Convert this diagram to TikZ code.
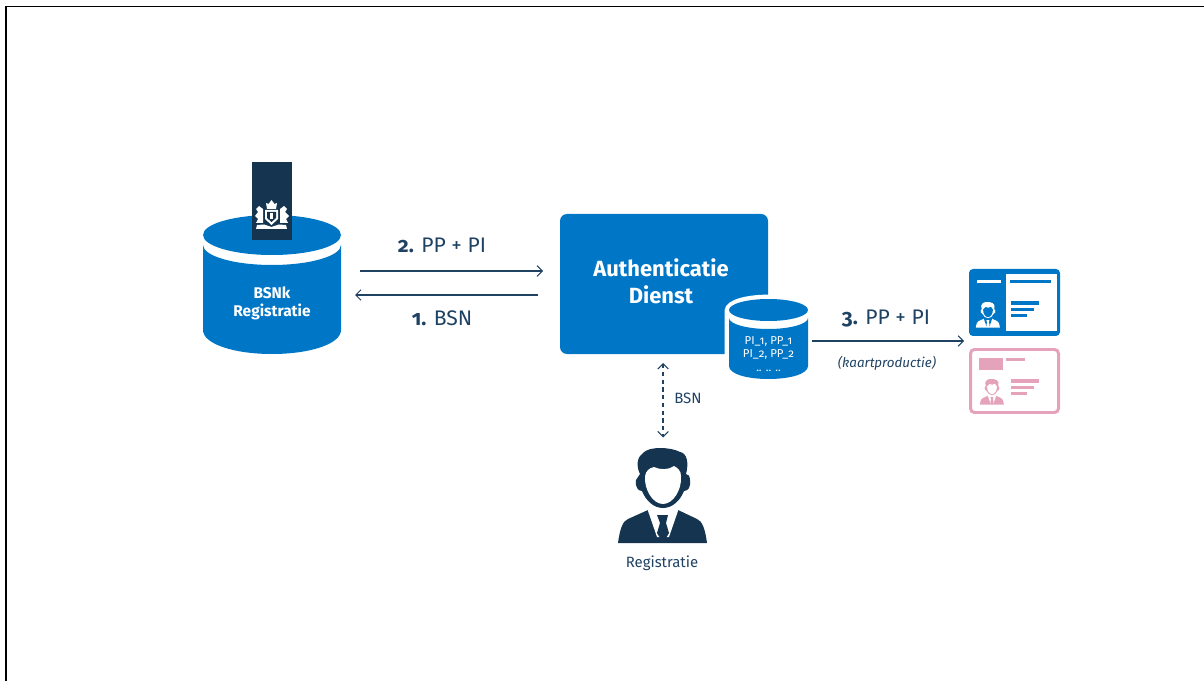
\documentclass[tikz,border=0pt]{standalone}
\usepackage{fontspec}
\setmainfont[Numbers=OldStyle]{Fira Sans}
\usetikzlibrary{arrows.meta}
\definecolor{rijkblue}{HTML}{0077C6}
\definecolor{rijknavy}{HTML}{14344F}
\definecolor{rijkink}{HTML}{1F4263}
\definecolor{rijkpink}{HTML}{E5A3BB}
\tikzset{
  flow/.style={draw=rijkink,line width=0.6pt,-{Straight Barb[length=3pt,width=6pt]}},
  swap/.style={flow,{Straight Barb[length=3pt,width=6pt]}-{Straight Barb[length=3pt,width=6pt]},dashed,dash pattern=on 2.4pt off 2pt},
  anchorbox/.style={inner sep=0pt,outer sep=0pt},
  lbl/.style={text=rijkink,font=\fontsize{12}{14}\selectfont,inner sep=0pt},
  small/.style={text=rijkink,font=\fontsize{8.5}{10}\selectfont,inner sep=0pt},
  inbox/.style={text=white,align=center,inner sep=0pt},
}
% head and shoulders: x, y, scale, figure colour, face colour
\newcommand{\bust}[5]{
\begin{scope}[shift={(#1,#2)},scale=#3]
\fill[#4] (-45,95) .. controls (-43,80) and (-40,73) .. (-35,71) -- (-15,62) -- (15,62) -- (34,71) .. controls (39,73) and (42,80) .. (44,95) -- cycle;
\fill[#5] (-16,60) -- (16,60) -- (6,89) -- (-6,89) -- cycle;
\fill[#4] (-6,67) -- (5,67) -- (3,75) -- (6,85) -- (0,95) -- (-6,85) -- (-3,75) -- cycle;
\fill[#4] (-27,32) .. controls (-28,39) and (-25,43) .. (-21,43) .. controls (-17,53) and (-9,60) .. (0,60) .. controls (9,60) and (17,53) .. (21,43) .. controls (25,43) and (28,39) .. (27,32) .. controls (27,28) and (25,26) .. (23,26) .. controls (26,15) and (24,5) .. (17,4) .. controls (8,-1) and (-14,-2) .. (-20,5) .. controls (-26,9) and (-27,18) .. (-23,26) -- cycle;
\fill[#5] (-18,28) .. controls (-17,23) and (-14,20) .. (-9,19) .. controls (-3,22) and (6,22) .. (11,18) .. controls (15,20) and (18,23) .. (18,28) .. controls (19,42) and (10,56) .. (0,56) .. controls (-10,56) and (-19,42) .. (-18,28) -- cycle;
\end{scope}
}
\begin{document}
\begin{tikzpicture}[x=0.2mm,y=-0.2mm]
\useasboundingbox (0,0) rectangle (1204,681);
\draw[black,line width=1pt] (6,681) -- (6,6.5) -- (1204,6.5);

% BSNk register
\fill[rijkblue] (203,245) .. controls (203,256) and (234,265) .. (272,265) .. controls (310,265) and (341,256) .. (341,245) -- (341,330) .. controls (341,344) and (310,354) .. (272,354) .. controls (234,354) and (203,344) .. (203,330) -- cycle;
\fill[rijkblue] (272,235) ellipse [x radius=69,y radius=20];
\fill[rijknavy] (252,162) rectangle (291.5,240);
\node[anchorbox,minimum width=27.6mm,minimum height=28mm] (bsnk) at (272,285) {};
\node[inbox,font=\bfseries\fontsize{8.8}{10.2}\selectfont] (bsnktext) at (272,303) {BSNk\\Registratie};

% Coat of arms
\fill[white] (271.5,200) -- (274.5,204) -- (277,203) -- (276,209) -- (267,209) -- (266,203) -- (268.5,204) -- cycle;
\fill[white] (265,210) -- (278,210) -- (278,219) -- (271.5,225) -- (265,219) -- cycle;
\fill[rijknavy] (267,212) -- (276,212) -- (276,218) -- (271.5,222) -- (267,218) -- cycle;
\fill[white] (270,213.5) rectangle (273,219);
\fill[white] (263,209) -- (259,206) -- (256,209) -- (258,212) -- (255,216) -- (258,219) -- (256,223) -- (263,223) -- cycle;
\fill[white] (280,209) -- (284,206) -- (287,209) -- (285,212) -- (289,216) -- (286,219) -- (288,223) -- (280,223) -- cycle;
\fill[white] (257,225) -- (264,224.5) -- (271.5,227) -- (279,224.5) -- (286,225) -- (287,229) -- (256,229) -- cycle;

% Authentication service
\node[anchorbox,fill=rijkblue,rounded corners=1.4mm,minimum width=41.6mm,minimum height=28mm] (auth) at (664,284) {};
\node[inbox,font=\bfseries\fontsize{12.5}{15.5}\selectfont] (authtext) at (661,281) {Authenticatie\\Dienst};

% Small store
\fill[white,draw=white,line width=5pt] (729,322) -- (729,366) .. controls (729,374) and (747,379) .. (768.5,379) .. controls (790,379) and (808,374) .. (808,366) -- (808,311) .. controls (808,304) and (790,299) .. (768.5,299) .. controls (747,299) and (729,304) .. (729,311) -- cycle;
\fill[rijkblue] (729,318) .. controls (729,324) and (747,329) .. (768.5,329) .. controls (790,329) and (808,324) .. (808,318) -- (808,366) .. controls (808,374) and (790,379) .. (768.5,379) .. controls (747,379) and (729,374) .. (729,366) -- cycle;
\fill[rijkblue] (768.5,310) ellipse [x radius=39.5,y radius=11];
\node[anchorbox,minimum width=15.8mm,minimum height=16mm] (store) at (768.5,341) {};
\node[inbox,font=\fontsize{6.5}{7.8}\selectfont] (storetext) at (768.5,354) {PI\_1, PP\_1\\PI\_2, PP\_2\\.. .. ..};

% Cards
\node[anchorbox] (cards) at (969,341) {};
\fill[rijkblue,rounded corners=0.8mm] (969,269) rectangle (1060,336);
\fill[white] (1006,274) rectangle (1057,331);
\fill[white] (977,280) rectangle (1001,283);
\fill[rijkblue] (1010,280) rectangle (1051,283);
\fill[rijkblue] (1011,301) rectangle (1039,305);
\fill[rijkblue] (1011,308) rectangle (1034,311);
\fill[rijkblue] (1011,314) rectangle (1027,317);
\bust{988}{302}{0.27}{white}{rijkblue}
\draw[rijkpink,line width=1.7pt,rounded corners=0.8mm] (970.5,349.5) rectangle (1058.5,412.5);
\fill[rijkpink] (979,358) rectangle (1003,370);
\fill[rijkpink] (1006,358) rectangle (1025,361);
\fill[rijkpink] (1011,379) rectangle (1039,383);
\fill[rijkpink] (1011,386) rectangle (1034,389);
\fill[rijkpink] (1011,392) rectangle (1027,395);
\bust{992}{379}{0.27}{rijkpink}{white}

% Person
\bust{663}{448}{1}{rijknavy}{white}
\node[anchorbox,minimum width=17.6mm,minimum height=19mm] (person) at (663,495) {};
\node[small] (persontext) at (662,563) {Registratie};

% Connectors
\draw[flow,shorten <=3.8mm,shorten >=3.4mm] ([yshift=2.8mm]bsnk.east) -- ([yshift=2.6mm]auth.west);
\draw[flow,shorten <=4.4mm,shorten >=2.8mm] ([yshift=-2.2mm]auth.west) -- ([yshift=-2mm]bsnk.east);
\draw[flow,shorten <=0.8mm,shorten >=0.8mm] (store.east) -- (cards);
\draw[swap,shorten <=1.8mm,shorten >=2mm] (auth.south -| person.north) -- (person.north);

% Labels
\node[lbl] (ppone) at (442,245) {\textbf{2.} PP + PI};
\node[lbl] (bsnone) at (442,318) {\textbf{1.} BSN};
\node[lbl] (pptwo) at (886,319) {\textbf{3.} PP + PI};
\node[small,font=\itshape\fontsize{7.6}{10}\selectfont] (prod) at (887,363) {(kaartproductie)};
\node[small] (bsntwo) at (688,398) {BSN};
\end{tikzpicture}
\end{document}
